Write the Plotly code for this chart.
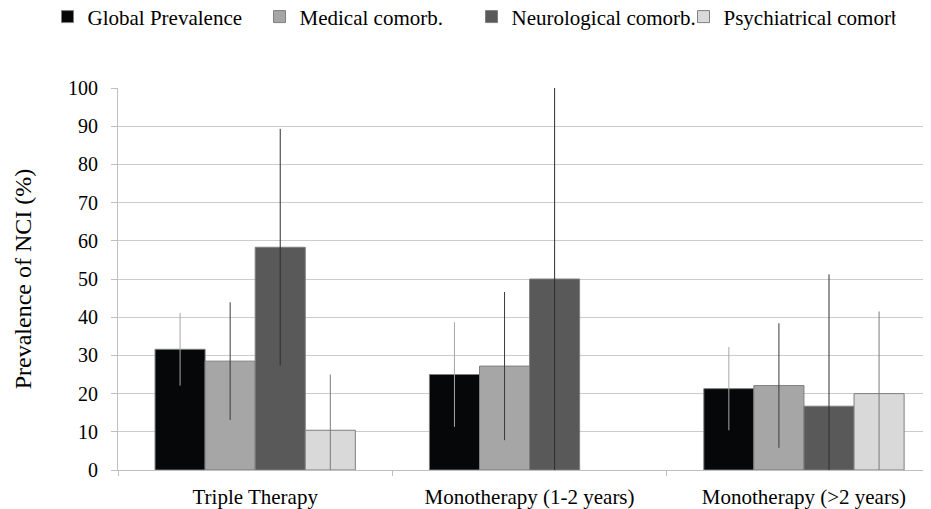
import plotly.graph_objects as go

categories = ["Triple Therapy", "Monotherapy (1-2 years)", "Monotherapy (>2 years)"]
series_names = ["Global Prevalence", "Medical comorb.", "Neurological comorb.", "Psychiatrical comorb."]
global_prev = [31.6, 25.0, 21.3]
global_err = [9.5, 13.7, 10.9]
medical = [28.5, 27.2, 22.1]
medical_err = [15.4, 19.4, 16.3]
neuro = [58.3, 50.0, 16.7]
neuro_err = [31.0, 50.0, 34.5]
psych = [10.4, None, 20.0]
psych_err = [14.6, None, 21.5]

values = [global_prev, medical, neuro, psych]
errors = [global_err, medical_err, neuro_err, psych_err]
colors = ["#050709", "#a6a6a6", "#595959", "#d9d9d9"]
err_colors = ["#a8a8a8", "#3a3a3a", "#2e2e2e", "#7a7a7a"]

FONT = "Liberation Serif"

fig = go.Figure()
for name, v, e, c, ec in zip(series_names, values, errors, colors, err_colors):
    fig.add_trace(go.Bar(
        name=name, x=categories, y=v,
        marker=dict(color=c, line=dict(color="#7f7f7f", width=1)),
        error_y=dict(type="data", array=e, visible=True, color=ec, thickness=1, width=0),
    ))

# page body has an 8px default margin, so the figure is sized/offset to compensate
fig.update_layout(
    width=923, height=501,
    margin=dict(l=110, r=0, t=80, b=39, autoexpand=False),
    paper_bgcolor="white", plot_bgcolor="white",
    barmode="group", bargap=0.27, bargroupgap=0,
    font=dict(family=FONT, color="#000000", size=20),
    showlegend=True,
    legend=dict(orientation="h", x=-0.0867, xref="paper", y=1.186, yref="paper",
                xanchor="left", yanchor="middle", font=dict(family=FONT, size=21),
                itemwidth=30, entrywidth=167, entrywidthmode="pixels",
                traceorder="normal", bgcolor="rgba(0,0,0,0)"),
    xaxis=dict(range=[-0.5, 2.463], showgrid=False, showline=True, linecolor="#bfbfbf",
               linewidth=1, ticks="outside", tickson="boundaries", ticklen=5, tickcolor="#bfbfbf",
               tickfont=dict(family=FONT, size=21), ticklabelstandoff=8, fixedrange=True),
    yaxis=dict(range=[0, 100], dtick=10, showgrid=True, gridcolor="#cccccc", gridwidth=1,
               showline=True, linecolor="#bfbfbf", linewidth=1, ticks="outside", ticklen=6,
               tickcolor="#bfbfbf", tickfont=dict(family=FONT, size=20), ticklabelstandoff=9,
               zeroline=False,
               title=dict(text="Prevalence of NCI (%)", font=dict(family=FONT, size=24), standoff=29)),
)

fig.write_html("out.html")
